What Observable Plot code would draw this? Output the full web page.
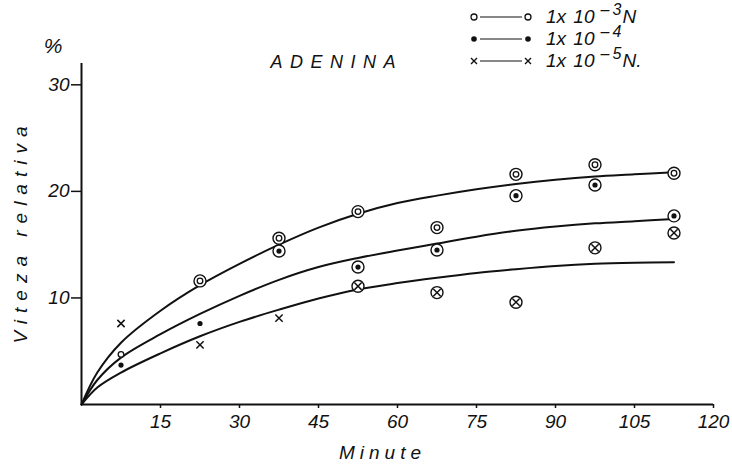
<!DOCTYPE html>
<html><head><meta charset="utf-8">
<script src="https://cdn.jsdelivr.net/npm/d3@7"></script>
<script src="https://cdn.jsdelivr.net/npm/@observablehq/plot@0.6"></script>
<style>
body{margin:0;background:#fff;}
#wrap{position:relative;width:732px;height:464px;font-family:"Liberation Sans",sans-serif;font-style:italic;color:#111;overflow:hidden;}
.t{position:absolute;white-space:nowrap;line-height:1;}
.row{position:absolute;display:flex;align-items:center;white-space:nowrap;font-size:19px;line-height:1;}
.row sup{font-size:16px;position:relative;top:-7px;margin-left:6px;vertical-align:baseline;line-height:1;}
</style></head><body>
<div id="wrap"></div>
<script>
// ---- data ----
const minutes = [7.5, 22.5, 37.5, 52.5, 67.5, 82.5, 97.5, 112.5];
const conc3 = [4.7, 11.6, 15.6, 18.1, 16.6, 21.6, 22.5, 21.7];   // 1x10^-3 N
const conc4 = [3.7, 7.6, 14.4, 12.9, 14.5, 19.6, 20.6, 17.7];    // 1x10^-4
const conc5 = [7.6, 5.6, 8.1, 11.1, 10.5, 9.6, 14.7, 16.1];      // 1x10^-5 N.
const circledFrom = [22.5, 37.5, 52.5];  // from which minute each series' points are circled

const fitMinutes = [0, 3, 7.5, 15, 22.5, 30, 37.5, 45, 52.5, 60, 67.5, 75, 82.5, 90, 97.5, 105, 112.5];
const fit3 = [0, 3.0, 5.8, 8.8, 11.2, 13.2, 15.0, 16.6, 17.9, 18.9, 19.6, 20.2, 20.7, 21.1, 21.4, 21.6, 21.8];
const fit4 = [0, 2.3, 4.4, 6.6, 8.5, 10.2, 11.7, 12.9, 13.75, 14.45, 15.1, 15.75, 16.3, 16.7, 17.0, 17.2, 17.4];
const fit5 = [0, 1.6, 3.0, 4.8, 6.4, 7.75, 8.9, 9.95, 10.8, 11.4, 11.9, 12.35, 12.7, 13.0, 13.2, 13.3, 13.35];

const xTicks = [15, 30, 45, 60, 75, 90, 105, 120];
const yTicks = [10, 20, 30];
const legendExp = ["3", "4", "5"];
const legendSuffix = ["N", "", "N."];

// ---- build tables ----
const series = [conc3, conc4, conc5];
const fits = [fit3, fit4, fit5];
const points = [];
series.forEach((vals, s) => vals.forEach((v, i) => points.push({s, minute: minutes[i], value: v, ring: minutes[i] >= circledFrom[s]})));
const curves = [];
fits.forEach((vals, s) => vals.forEach((v, i) => curves.push({s, minute: fitMinutes[i], value: v})));

const chart = Plot.plot({
  width: 732, height: 464,
  marginLeft: 81, marginRight: 19, marginTop: 63, marginBottom: 60,
  style: {fontFamily: "'Liberation Sans', sans-serif", fontStyle: "italic", fontSize: "19px", color: "#111", background: "white"},
  x: {domain: [0, 120]},
  y: {domain: [0, 32]},
  marks: [
    Plot.axisX({ticks: xTicks, tickSize: 4, tickPadding: 6, label: null, strokeWidth: 1.5}),
    Plot.axisY({ticks: yTicks, tickSize: 10, tickPadding: 2, label: null, strokeWidth: 1.5}),
    Plot.ruleX([0], {stroke: "#111", strokeWidth: 2}),
    Plot.ruleY([0], {stroke: "#111", strokeWidth: 2}),
    Plot.line(curves, {x: "minute", y: "value", z: "s", curve: "catmull-rom", stroke: "#111", strokeWidth: 2}),
    Plot.dot(points.filter(d => d.ring), {x: "minute", y: "value", r: 6, stroke: "#111", fill: "white", strokeWidth: 1.4}),
    Plot.dot(points.filter(d => d.s === 0), {x: "minute", y: "value", r: 2.8, stroke: "#111", fill: "white", strokeWidth: 1.3}),
    Plot.dot(points.filter(d => d.s === 1), {x: "minute", y: "value", r: 2.6, fill: "#111", stroke: "none"}),
    Plot.dot(points.filter(d => d.s === 2), {x: "minute", y: "value", symbol: "times", r: 3.4, stroke: "#111", strokeWidth: 1.5})
  ]
});
const wrap = document.getElementById("wrap");
wrap.appendChild(chart);

function addText(txt, cx, cy, size, ls, rot) {
  const d = document.createElement("div");
  d.className = "t";
  d.textContent = txt;
  d.style.left = cx + "px"; d.style.top = cy + "px";
  d.style.fontSize = size + "px";
  d.style.letterSpacing = ls + "px";
  d.style.paddingLeft = ls + "px";
  d.style.transform = "translate(-50%,-50%)" + (rot ? " rotate(" + rot + "deg)" : "");
  wrap.appendChild(d);
}
addText("%", 53, 45, 21, 0, 0);
addText("ADENINA", 333, 62, 18, 7.5, 0);
addText("Viteza relativa", 20, 235, 19, 7, -90);
addText("Minute", 380, 452, 19, 5, 0);

// legend
const rowY = [16, 38, 60];
legendExp.forEach((e, s) => {
  const row = document.createElement("div");
  row.className = "row";
  row.style.left = "466px";
  row.style.top = (rowY[s] - 9) + "px";
  let mk = (cx) => s === 0 ? `<circle cx="${cx}" cy="9" r="3" fill="white" stroke="#111" stroke-width="1.3"/>`
    : s === 1 ? `<circle cx="${cx}" cy="9" r="2.8" fill="#111"/>`
    : `<path d="M${cx-3},6 L${cx+3},12 M${cx-3},12 L${cx+3},6" stroke="#111" stroke-width="1.4"/>`;
  row.innerHTML = `<svg width="68" height="18" style="display:block">${mk(8)}<line x1="14" y1="9" x2="56" y2="9" stroke="#111" stroke-width="1.1"/>${mk(62)}</svg>`
    + `<span style="margin-left:12px;word-spacing:2px">1x 10</span><sup>\u2013\u2009${e}</sup><span style="margin-left:1px">${legendSuffix[s]}</span>`;
  wrap.appendChild(row);
});
</script>
</body></html>
